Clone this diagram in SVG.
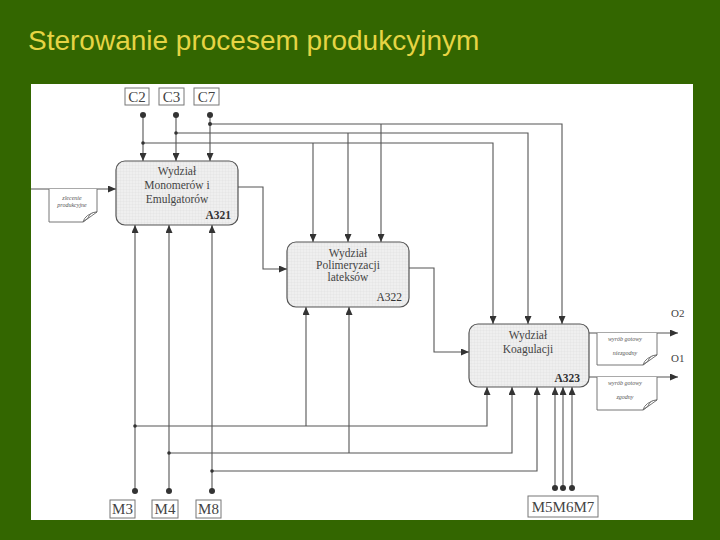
<svg xmlns="http://www.w3.org/2000/svg" width="720" height="540" viewBox="0 0 720 540">
<defs>
<marker id="ah" markerWidth="8" markerHeight="7" refX="8" refY="3.5" orient="auto" markerUnits="userSpaceOnUse">
<path d="M0,0 L8,3.5 L0,7 Z" fill="#333"/>
</marker>
<pattern id="grid" width="3" height="3" patternUnits="userSpaceOnUse">
<rect width="3" height="3" fill="#efefef"/>
<path d="M0,0 H3 M0,0 V3" stroke="#dcdcdc" stroke-width="0.6"/>
</pattern>
<style>
.bx{fill:url(#grid);stroke:#555;stroke-width:1.2}
.bt{font-family:"Liberation Serif",serif;font-size:11.5px;fill:#444;text-anchor:middle}
.id{font-family:"Liberation Serif",serif;font-size:11.5px;fill:#333;text-anchor:end}
.lb{fill:#fff;stroke:#777;stroke-width:1}
.lt{font-family:"Liberation Serif",serif;font-size:15px;fill:#444;text-anchor:middle}
.ln{fill:none;stroke:#555;stroke-width:1.1}
.ar{marker-end:url(#ah)}
.dt{fill:#333}
.doc{fill:#fff;stroke:#666;stroke-width:0.9}
.dtx{font-family:"Liberation Serif",serif;font-size:6px;font-style:italic;fill:#555;text-anchor:middle}
.ol{font-family:"Liberation Serif",serif;font-size:11px;fill:#444}
</style>
</defs>
<rect width="720" height="540" fill="#336600"/>
<text x="28" y="50" font-family="Liberation Sans, Arial, sans-serif" font-size="28" fill="#e6d444">Sterowanie procesem produkcyjnym</text>
<rect x="31" y="84" width="662" height="436" fill="#ffffff"/>

<g id="connectors">
<path class="ln ar" d="M143,115 V161"/>
<path class="ln ar" d="M176,115 V161"/>
<path class="ln ar" d="M210,115 V161"/>
<path class="ln ar" d="M210,124 H562 V324"/>
<path class="ln ar" d="M381,124 V242"/>
<path class="ln ar" d="M176,133 H528 V324"/>
<path class="ln ar" d="M348,133 V242"/>
<path class="ln ar" d="M143,143 H493 V324"/>
<path class="ln ar" d="M313,143 V242"/>
<path class="ln ar" d="M31,189 H116"/>
<path class="ln ar" d="M238,187 H263 V269 H287"/>
<path class="ln ar" d="M409,268 H434 V352 H469"/>
<path class="ln ar" d="M589,333 H678"/>
<path class="ln ar" d="M589,377 H678"/>
<path class="ln ar" d="M135,491 V225"/>
<path class="ln ar" d="M169,491 V225"/>
<path class="ln ar" d="M212,491 V225"/>
<path class="ln ar" d="M135,426 H487 V387"/>
<path class="ln ar" d="M306,426 V307"/>
<path class="ln ar" d="M169,453 H512 V387"/>
<path class="ln ar" d="M349,453 V307"/>
<path class="ln ar" d="M212,471 H537 V387"/>
<path class="ln ar" d="M555,488 V387"/>
<path class="ln ar" d="M563,488 V387"/>
<path class="ln ar" d="M572,488 V387"/>
<circle class="dt" cx="143" cy="115" r="3"/>
<circle class="dt" cx="176" cy="115" r="3"/>
<circle class="dt" cx="210" cy="115" r="3"/>
<circle class="dt" cx="210" cy="124" r="2"/>
<circle class="dt" cx="176" cy="133" r="1.8"/>
<circle class="dt" cx="143" cy="143" r="1.8"/>
<circle class="dt" cx="135" cy="491" r="3"/>
<circle class="dt" cx="169" cy="491" r="3"/>
<circle class="dt" cx="212" cy="491" r="3"/>
<circle class="dt" cx="135" cy="426" r="1.8"/>
<circle class="dt" cx="169" cy="453" r="1.8"/>
<circle class="dt" cx="212" cy="471" r="1.8"/>
<circle class="dt" cx="555" cy="488" r="3"/>
<circle class="dt" cx="563" cy="488" r="3"/>
<circle class="dt" cx="572" cy="488" r="3"/>
</g>

<g id="C2"><rect class="lb" x="125" y="88" width="24" height="17"/><text class="lt" x="137" y="102">C2</text></g>
<g id="C3"><rect class="lb" x="159" y="88" width="25" height="17"/><text class="lt" x="171.5" y="102">C3</text></g>
<g id="C7"><rect class="lb" x="194" y="88" width="25" height="17"/><text class="lt" x="206.5" y="102">C7</text></g>

<g id="M3"><rect class="lb" x="110" y="500" width="25" height="18"/><text class="lt" x="122.5" y="514">M3</text></g>
<g id="M4"><rect class="lb" x="152" y="500" width="26" height="18"/><text class="lt" x="165" y="514">M4</text></g>
<g id="M8"><rect class="lb" x="196" y="500" width="25" height="18"/><text class="lt" x="208.5" y="514">M8</text></g>
<g id="M5M6M7"><rect class="lb" x="528" y="496" width="70" height="21"/><text class="lt" x="563" y="512">M5M6M7</text></g>

<g id="A321">
<rect class="bx" x="116" y="161" width="122" height="64" rx="9"/>
<text class="bt" x="177" y="175">Wydział</text>
<text class="bt" x="177" y="189">Monomerów i</text>
<text class="bt" x="177" y="203">Emulgatorów</text>
<text class="id" x="231" y="219" font-weight="bold" font-size="12">A321</text>
</g>
<g id="A322">
<rect class="bx" x="287" y="242" width="122" height="65" rx="9"/>
<text class="bt" x="348" y="257">Wydział</text>
<text class="bt" x="348" y="269">Polimeryzacji</text>
<text class="bt" x="348" y="281">lateksów</text>
<text class="id" x="402" y="301">A322</text>
</g>
<g id="A323">
<rect class="bx" x="469" y="324" width="120" height="63" rx="9"/>
<text class="bt" x="528" y="339">Wydział</text>
<text class="bt" x="528" y="353">Koagulacji</text>
<text class="id" x="580" y="382" font-weight="bold" font-size="12">A323</text>
</g>

<g id="doc-zlecenie">
<path class="doc" d="M49,189 V222 H83 Q85,214 97,212 V189"/>
<path class="doc" d="M83,222 L97,212 Q90,212 88,218 Z" fill="#f4f4f4"/>
<text class="dtx" x="72" y="200">zlecenie</text>
<text class="dtx" x="72" y="207">produkcyjne</text>
</g>
<g id="doc-niezgodny">
<path class="doc" d="M597,333 V365 H643 Q645,357 657,355 V333"/>
<path class="doc" d="M643,365 L657,355 Q650,355 648,361 Z" fill="#f4f4f4"/>
<text class="dtx" x="625" y="341">wyrób gotowy</text>
<text class="dtx" x="625" y="355">niezgodny</text>
</g>
<g id="doc-zgodny">
<path class="doc" d="M597,377 V410 H643 Q645,402 657,400 V377"/>
<path class="doc" d="M643,410 L657,400 Q650,400 648,406 Z" fill="#f4f4f4"/>
<text class="dtx" x="625" y="385">wyrób gotowy</text>
<text class="dtx" x="625" y="399">zgodny</text>
</g>
<text class="ol" x="671" y="317">O2</text>
<text class="ol" x="671" y="362">O1</text>
</svg>
